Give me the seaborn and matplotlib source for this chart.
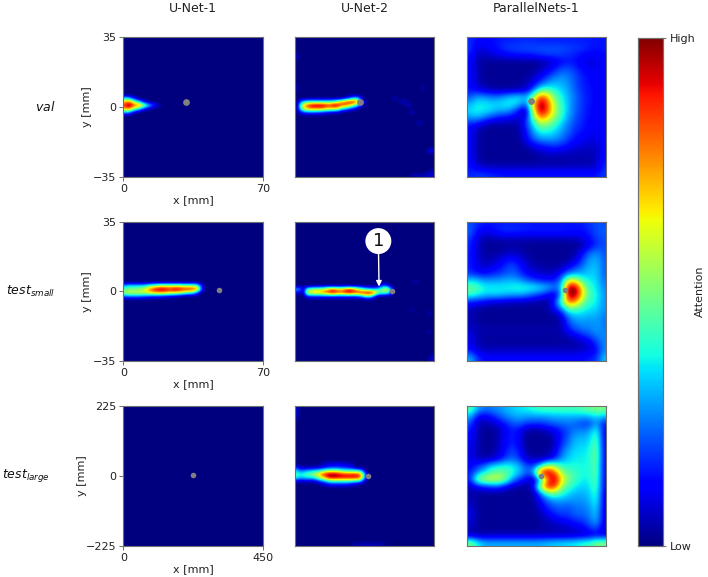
import matplotlib
matplotlib.use("Agg")
import matplotlib.pyplot as plt
import numpy as np
import seaborn as sns

# Titles and tick labels
col_titles = ["U-Net-1", "U-Net-2", "ParallelNets-1"]
row_titles = [r"$\mathit{val}$", r"$\mathit{test}_{\mathit{small}}$", r"$\mathit{test}_{\mathit{large}}$"]
row_x_max = [70, 70, 450]
row_y_max = [35, 35, 225]

# Position of the grey point in each panel, [mm]
dot_x = [[31.7, 32.7, 32.3], [48.2, 49.0, 49.4], [226, 237, 240]]
dot_y = [[2.6, 2.6, 2.9], [0.7, 0.3, 0.5], [2, 0, 0]]
dot_size = [24, 16, 16]

# U-Net maps are almost empty: (row, first column, values) on a 40x40 grid
val_unet1 = [
    (17, 0, [.35, .35, .2, .08]),
    (18, 0, [.7, .8, .7, .5, .35, .18, .06]),
    (19, 0, [.9, 1.0, .95, .8, .85, .65, .5, .35, .22, .12, .04]),
    (20, 0, [.7, .8, .65, .5, .35, .22, .1, .04]),
    (21, 0, [.3, .3, .15, .05]),
]
val_unet2 = [
    (17, 14, [.08, .18, .3, .35, .2]),
    (18, 1, [.2, .35, .4, .42, .42, .42, .42, .42, .42, .45, .5, .6, .75, .85, .92, .95, .85, .55, .15]),
    (19, 1, [.4, .7, .85, .95, 1.0, 1.0, 1.0, .98, .9, .95, 1.0, .95, .85, .8, .7, .55, .4, .2, .05]),
    (20, 1, [.35, .6, .7, .75, .75, .75, .75, .7, .65, .65, .65, .55, .35, .28, .2, .12, .06]),
    (21, 1, [.1, .18, .22, .22, .22, .2, .18, .14, .1, .08, .06, .04]),
    (5, 0, [.1]), (14, 0, [.07]), (17, 28, [.08]), (18, 30, [.08, .06]), (19, 32, [.09]),
    (21, 33, [.08]), (24, 35, [.09]), (32, 38, [.13, .13]), (14, 36, [.06]),
    (38, 38, [.04, .08]), (39, 33, [.04, .05, .05, .05, .06, .08, .08]),
]
small_unet1 = [
    (18, 0, [.3, .35, .35, .35, .35, .35, .38, .45, .5, .55, .6, .6, .6, .6, .6, .6, .6, .55, .55, .55, .55, .4, .12]),
    (19, 0, [.45, .5, .5, .5, .52, .58, .65, .78, .88, .95, 1.0, 1.0, .95, .92, .98, .98, .95, .92, .92, .9, .88, .65, .2]),
    (20, 0, [.55, .6, .6, .6, .6, .6, .62, .65, .7, .72, .72, .72, .7, .65, .65, .62, .58, .5, .45, .4, .3, .12]),
    (21, 0, [.22, .25, .25, .25, .25, .22, .2, .18, .15, .15, .14, .12, .1, .08, .06, .04]),
]
small_unet2 = [
    (18, 24, [.14, .22, .14]),
    (19, 0, [.32, .28, .06, .45, .52, .58, .58, .6, .65, .75, .85, .8, .75, .72, .85, .92, .85, .7, .6, .45, .38, .32, .32, .36, .45, .6, .62, .3]),
    (20, 0, [.08, .04, .08, .6, .68, .72, .72, .76, .82, .86, .95, .9, .85, .85, .92, .95, .92, .88, .92, .95, 1.0, 1.0, .9, .6, .48, .48, .42, .15]),
    (21, 3, [.14, .16, .16, .16, .16, .16, .16, .16, .16, .16, .15, .15, .15, .15, .16, .2, .32, .42, .42, .2]),
    (17, 34, [.07]), (25, 33, [.05]), (26, 38, [.07]), (31, 38, [.05]), (38, 39, [.08]), (39, 38, [.06, .08]),
]
large_unet1 = []
large_unet2 = [
    (0, 0, [.08]), (1, 0, [.08]), (2, 0, [.06]), (3, 0, [.05]),
    (16, 7, [.04, .06, .08, .09, .09, .09, .08, .07, .05, .03]),
    (17, 0, [.14, .04, .04, .04, .04, .04, .04, .07, .1, .13, .15, .16, .16, .14, .14, .12, .1]),
    (18, 0, [.35, .25, .25, .3, .32, .35, .38, .42, .5, .55, .55, .55, .5, .45, .42, .4, .4, .4, .35, .18]),
    (19, 0, [.42, .38, .42, .45, .5, .55, .65, .8, .9, .98, 1.0, 1.0, .96, .92, .9, .9, .9, .88, .85, .5, .1]),
    (20, 0, [.38, .32, .32, .35, .35, .38, .5, .6, .72, .88, .92, .92, .9, .9, .9, .9, .9, .9, .85, .45, .08]),
    (21, 0, [.06, .04, .06, .06, .06, .06, .12, .2, .25, .35, .4, .4, .4, .4, .4, .38, .35, .32, .3, .12]),
    (22, 7, [.04, .06, .1, .12, .12, .12, .12, .12, .1, .06, .05]),
    (39, 16, [.03, .04, .05, .05, .05, .05, .05, .05, .04, .03]),
]

# ParallelNets maps cover the whole panel: 20x20 grid
val_parallel = [
    [.16, .13, .13, .13, .14, .15, .15, .16, .16, .16, .15, .15, .15, .15, .15, .15, .15, .15, .14, .14],
    [.18, .08, .10, .12, .15, .18, .19, .19, .20, .20, .20, .20, .20, .20, .19, .18, .17, .15, .14, .15],
    [.15, .06, .06, .08, .10, .12, .14, .15, .15, .16, .18, .19, .19, .18, .17, .15, .13, .12, .11, .13],
    [.13, .04, .03, .02, .02, .02, .02, .02, .02, .02, .03, .05, .09, .12, .14, .13, .10, .08, .09, .12],
    [.12, .05, .02, .02, .02, .02, .02, .02, .02, .02, .05, .08, .14, .19, .20, .16, .12, .10, .10, .12],
    [.12, .06, .02, .02, .02, .02, .02, .02, .03, .05, .10, .16, .22, .26, .24, .20, .15, .13, .11, .12],
    [.12, .06, .03, .02, .02, .02, .02, .03, .04, .09, .18, .26, .30, .30, .26, .20, .15, .13, .11, .11],
    [.14, .10, .06, .04, .03, .03, .03, .04, .07, .20, .40, .42, .38, .33, .28, .21, .16, .14, .12, .11],
    [.20, .28, .26, .24, .24, .28, .32, .34, .30, .50, .85, .72, .48, .38, .30, .23, .17, .14, .12, .12],
    [.30, .36, .36, .34, .34, .37, .38, .33, .24, .70, 1.0, .85, .55, .40, .30, .22, .17, .14, .12, .12],
    [.35, .38, .36, .34, .30, .30, .24, .12, .02, .62, 1.0, .85, .58, .42, .30, .22, .17, .13, .12, .11],
    [.28, .30, .24, .18, .14, .12, .10, .06, .14, .48, .78, .68, .52, .40, .28, .20, .16, .13, .11, .11],
    [.14, .10, .05, .03, .03, .03, .03, .05, .18, .36, .52, .50, .42, .32, .24, .18, .15, .12, .11, .11],
    [.12, .04, .02, .02, .02, .02, .02, .03, .14, .28, .38, .38, .34, .28, .22, .16, .14, .11, .10, .12],
    [.12, .04, .02, .02, .02, .02, .02, .03, .12, .22, .28, .29, .28, .24, .18, .13, .11, .09, .09, .12],
    [.11, .04, .02, .02, .02, .02, .02, .02, .05, .10, .14, .16, .18, .16, .12, .10, .08, .07, .07, .12],
    [.11, .04, .02, .02, .02, .02, .02, .02, .02, .03, .05, .07, .08, .07, .06, .05, .05, .05, .05, .12],
    [.12, .04, .02, .02, .02, .02, .02, .02, .02, .02, .03, .03, .03, .03, .04, .04, .04, .04, .06, .14],
    [.14, .08, .06, .05, .05, .05, .05, .05, .05, .05, .05, .05, .05, .05, .05, .05, .05, .05, .06, .16],
    [.16, .18, .17, .16, .15, .14, .14, .14, .14, .14, .14, .14, .14, .14, .14, .14, .14, .14, .14, .18],
]
small_parallel = [
    [.20, .17, .14, .14, .15, .15, .15, .15, .15, .14, .14, .14, .14, .14, .14, .14, .15, .17, .20, .20],
    [.22, .12, .10, .12, .15, .17, .17, .16, .15, .15, .15, .15, .15, .15, .14, .14, .13, .16, .20, .22],
    [.18, .08, .04, .04, .05, .05, .05, .05, .05, .05, .05, .05, .05, .05, .05, .06, .08, .13, .18, .20],
    [.16, .07, .03, .02, .02, .03, .03, .03, .02, .02, .02, .02, .02, .02, .02, .02, .04, .10, .17, .20],
    [.15, .07, .03, .03, .03, .05, .06, .05, .03, .02, .02, .02, .02, .02, .02, .04, .12, .22, .26, .20],
    [.15, .08, .04, .05, .07, .12, .14, .10, .05, .03, .02, .02, .02, .02, .03, .07, .18, .28, .30, .22],
    [.15, .09, .07, .09, .12, .17, .20, .15, .08, .05, .04, .03, .03, .04, .10, .17, .24, .30, .32, .22],
    [.17, .14, .12, .15, .17, .20, .22, .18, .12, .09, .07, .06, .07, .14, .24, .28, .30, .33, .33, .22],
    [.34, .32, .28, .28, .28, .30, .30, .28, .22, .18, .15, .14, .14, .26, .62, .62, .42, .36, .34, .24],
    [.48, .44, .37, .37, .37, .37, .39, .40, .40, .39, .36, .32, .26, .30, 1.0, 1.0, .62, .40, .36, .26],
    [.42, .38, .34, .34, .34, .32, .30, .30, .27, .22, .18, .12, .06, .25, 1.0, 1.0, .68, .42, .38, .27],
    [.16, .14, .12, .09, .08, .07, .06, .06, .05, .04, .03, .03, .16, .45, .82, .78, .52, .40, .37, .27],
    [.06, .03, .02, .02, .02, .02, .02, .02, .02, .02, .02, .03, .12, .26, .46, .46, .40, .36, .34, .27],
    [.05, .03, .02, .02, .02, .02, .02, .02, .02, .02, .02, .02, .03, .08, .26, .32, .32, .30, .30, .25],
    [.05, .03, .02, .02, .02, .02, .02, .02, .02, .02, .02, .02, .02, .04, .20, .26, .27, .26, .28, .24],
    [.07, .05, .04, .04, .04, .04, .04, .04, .04, .04, .04, .04, .04, .05, .14, .20, .24, .25, .28, .25],
    [.10, .04, .03, .03, .03, .03, .03, .03, .03, .03, .03, .03, .03, .03, .05, .09, .14, .18, .24, .26],
    [.10, .05, .03, .03, .03, .03, .03, .03, .03, .03, .03, .03, .03, .03, .03, .03, .05, .08, .17, .26],
    [.14, .08, .06, .06, .06, .06, .06, .06, .06, .06, .06, .06, .06, .06, .06, .06, .07, .08, .12, .26],
    [.30, .17, .13, .12, .12, .12, .12, .12, .12, .12, .12, .12, .12, .12, .12, .12, .13, .15, .17, .32],
]
large_parallel = [
    [.45, .30, .24, .25, .27, .30, .33, .35, .37, .40, .42, .43, .43, .43, .43, .43, .45, .48, .50, .50],
    [.30, .12, .10, .14, .20, .25, .28, .30, .28, .28, .28, .28, .30, .30, .30, .30, .30, .30, .35, .30],
    [.20, .05, .04, .05, .10, .15, .20, .22, .18, .17, .17, .20, .22, .23, .24, .22, .18, .18, .28, .15],
    [.15, .05, .02, .02, .04, .10, .15, .12, .03, .02, .03, .06, .10, .15, .20, .25, .25, .28, .40, .12],
    [.12, .05, .02, .02, .05, .12, .16, .10, .02, .02, .02, .02, .06, .15, .22, .30, .30, .32, .45, .12],
    [.10, .05, .02, .02, .05, .12, .16, .10, .02, .02, .02, .02, .05, .17, .25, .32, .33, .35, .48, .12],
    [.10, .05, .02, .03, .07, .14, .20, .14, .03, .02, .02, .03, .08, .22, .30, .35, .35, .37, .50, .12],
    [.10, .06, .03, .05, .09, .18, .22, .17, .06, .04, .04, .05, .14, .26, .33, .36, .36, .38, .50, .12],
    [.12, .16, .22, .32, .36, .38, .36, .30, .20, .18, .30, .55, .50, .40, .38, .38, .37, .38, .48, .12],
    [.14, .26, .36, .45, .48, .46, .40, .32, .22, .28, .95, 1.0, .85, .55, .45, .42, .38, .38, .48, .12],
    [.16, .52, .60, .62, .62, .50, .28, .18, .10, .04, .25, .75, 1.0, .68, .50, .42, .36, .37, .46, .12],
    [.06, .10, .14, .18, .18, .10, .05, .03, .02, .10, .60, .95, .88, .55, .42, .36, .33, .35, .45, .12],
    [.04, .03, .02, .02, .02, .02, .02, .02, .02, .03, .22, .42, .48, .40, .34, .30, .30, .32, .42, .10],
    [.05, .03, .02, .02, .02, .02, .02, .02, .02, .03, .12, .22, .27, .28, .27, .27, .27, .30, .40, .10],
    [.08, .03, .02, .02, .02, .02, .02, .02, .02, .02, .08, .16, .20, .22, .20, .24, .24, .27, .36, .10],
    [.10, .03, .02, .02, .02, .02, .02, .02, .02, .02, .04, .10, .15, .18, .18, .22, .22, .25, .33, .10],
    [.08, .03, .02, .02, .02, .02, .02, .02, .02, .02, .03, .05, .07, .10, .12, .15, .17, .22, .30, .10],
    [.05, .03, .02, .02, .02, .02, .02, .02, .02, .02, .03, .03, .04, .05, .06, .08, .10, .16, .20, .08],
    [.07, .04, .05, .06, .06, .06, .06, .06, .06, .06, .06, .06, .06, .06, .06, .06, .07, .08, .10, .10],
    [.50, .38, .30, .30, .30, .30, .30, .30, .30, .30, .30, .32, .33, .34, .35, .37, .40, .42, .50, .50],
]


def sparse_grid(pieces, size=40):
    grid = np.zeros((size, size))
    for row, col, values in pieces:
        grid[row, col:col + len(values)] = values
    return grid


maps = [
    [sparse_grid(val_unet1), sparse_grid(val_unet2), np.array(val_parallel)],
    [sparse_grid(small_unet1), sparse_grid(small_unet2), np.array(small_parallel)],
    [sparse_grid(large_unet1), sparse_grid(large_unet2), np.array(large_parallel)],
]

sns.set_theme(style="ticks", rc={"font.family": "DejaVu Sans"})

W, H = 708, 577
fig = plt.figure(figsize=(W / 100, H / 100), dpi=100)
EDGE = "#707070"
TEXT = "#222222"


# Axes placed from pixel corners of the picture
def px_axes(left, top, right, bottom):
    return fig.add_axes([left / W, 1 - bottom / H, (right - left) / W, (bottom - top) / H])


lefts = [123.3, 294.7, 466.7]
tops = [37.3, 221.7, 406.2]
side = 139.4
ylabel_x = [-0.26, -0.26, -0.295]
title_x = [45, 30.5, 25.5]
title_y = [107, 291.7, 475.5]

cax = px_axes(637.7, 37.5, 663.3, 545.6)

for r in range(3):
    for c in range(3):
        ax = px_axes(lefts[c], tops[r], lefts[c] + side, tops[r] + side)
        grid = maps[r][c]
        n = grid.shape[0]
        first = r == 0 and c == 0
        sns.heatmap(grid, ax=ax, cmap="jet", vmin=0, vmax=1, square=False,
                    xticklabels=False, yticklabels=False,
                    cbar=first, cbar_ax=cax if first else None,
                    cbar_kws={"ticks": [0, 1]} if first else None)
        # the mesh is blocky, the original maps are smooth
        ax.imshow(grid, extent=(0, n, n, 0), cmap="jet", vmin=0, vmax=1,
                  interpolation="bicubic", aspect="auto", zorder=2)
        ax.set_xlim(0, n)
        ax.set_ylim(n, 0)

        x_max, y_max = row_x_max[r], row_y_max[r]
        ax.scatter([dot_x[r][c] / x_max * n], [(y_max - dot_y[r][c]) / (2 * y_max) * n],
                   s=dot_size[r], color="#808080", linewidths=0, zorder=3)

        for spine in ax.spines.values():
            spine.set_visible(True)
            spine.set_color(EDGE)
            spine.set_linewidth(0.8)

        if c == 0:
            ax.set_xticks([0, n], [0, x_max])
            ax.set_yticks([0, n / 2, n], [y_max, 0, "\u2212%d" % y_max])
            ax.tick_params(labelsize=8, length=3, width=0.7, color=EDGE, labelcolor=TEXT, pad=2)
            plt.setp(ax.get_yticklabels(), rotation=0)
            ax.set_xlabel("x [mm]", fontsize=8, color=TEXT, va="center")
            ax.xaxis.set_label_coords(0.5, -0.165)
            ax.set_ylabel("y [mm]", fontsize=8, color=TEXT, va="center")
            ax.yaxis.set_label_coords(ylabel_x[r], 0.5)
        else:
            ax.set_xticks([])
            ax.set_yticks([])

        if r == 1 and c == 1:
            ax.annotate("1", xy=(0.605, 0.535), xytext=(0.6, 0.861), xycoords="axes fraction",
                        textcoords="axes fraction", ha="center", va="center", fontsize=13, color="#111111",
                        bbox=dict(boxstyle="circle,pad=0.22", fc="white", ec="none"),
                        arrowprops=dict(arrowstyle="-|>", color="white", lw=1.0, mutation_scale=8,
                                        shrinkA=0, shrinkB=0),
                        zorder=5)

cax.set_yticklabels(["Low", "High"])
cax.tick_params(labelsize=8, length=2.5, width=0.7, color=EDGE, labelcolor=TEXT, pad=2)
cax.set_ylabel("Attention", fontsize=8, color=TEXT, va="center")
cax.yaxis.set_label_coords(2.42, 0.5)
for spine in cax.spines.values():
    spine.set_visible(True)
    spine.set_color(EDGE)
    spine.set_linewidth(0.8)

for c, title in enumerate(col_titles):
    fig.text((lefts[c] + side / 2) / W, 1 - 8 / H, title, ha="center", va="center", fontsize=9, color=TEXT)
for r, title in enumerate(row_titles):
    fig.text(title_x[r] / W, 1 - title_y[r] / H, title, ha="center", va="center", fontsize=9, color="#111111")

fig.savefig("out.png", dpi=100, facecolor="white")
